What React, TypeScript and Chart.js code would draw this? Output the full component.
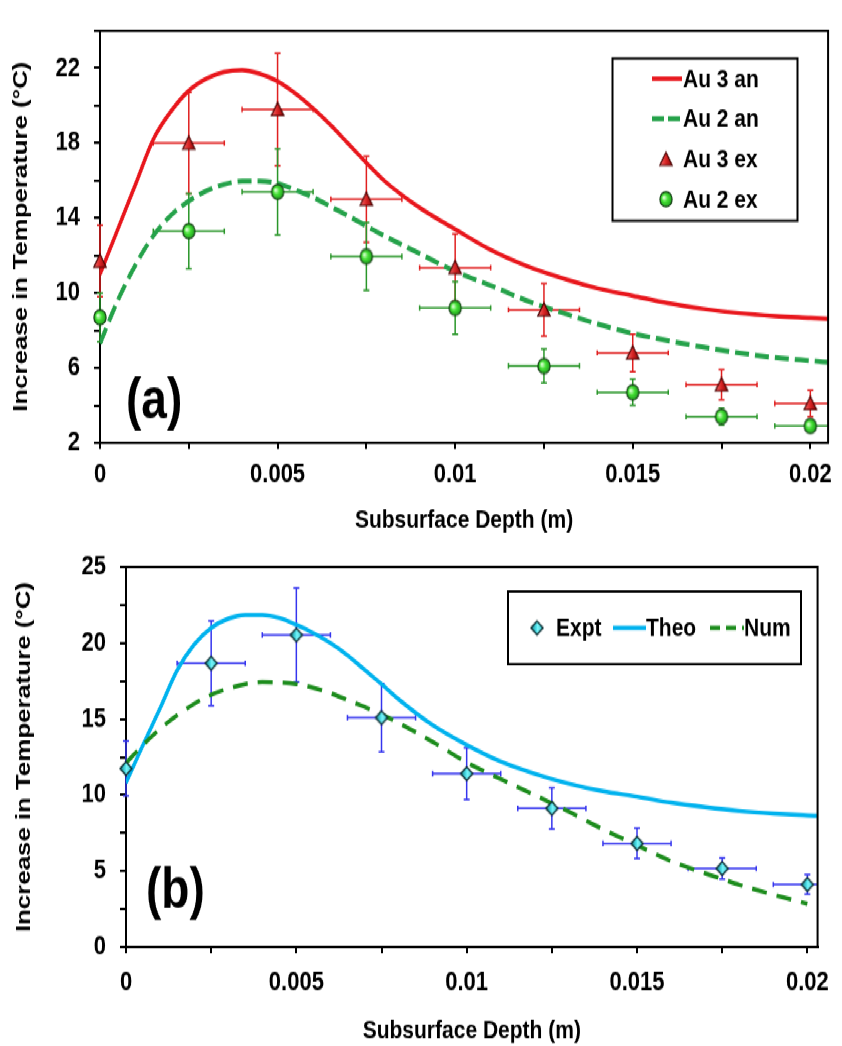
import React, { useEffect, useRef } from "react";
import { Chart, registerables } from "chart.js";

Chart.register(...registerables);

// ---------------- panel (a) data ----------------
const expDepth = [0, 0.0025, 0.005, 0.0075, 0.01, 0.0125, 0.015, 0.0175, 0.02];
const depthErr = [0, 0.001, 0.001, 0.001, 0.001, 0.001, 0.001, 0.001, 0.001];
const au3Ex = [11.7, 18.0, 19.8, 15.0, 11.35, 9.1, 6.8, 5.1, 4.1];
const au3ExErr = [1.9, 2.7, 3.0, 2.3, 1.8, 1.4, 1.0, 0.8, 0.7];
const au2Ex = [8.7, 13.3, 15.4, 11.95, 9.2, 6.1, 4.7, 3.4, 2.9];
const au2ExErr = [1.3, 2.0, 2.3, 1.8, 1.4, 0.9, 0.7, 0.45, 0.3];

const curveDepthA = [
  0, 0.0005, 0.001, 0.0015, 0.002, 0.0025, 0.003, 0.0035, 0.004, 0.0045, 0.005,
  0.0055, 0.006, 0.0065, 0.007, 0.0075, 0.008, 0.009, 0.01, 0.011, 0.012, 0.013,
  0.014, 0.015, 0.016, 0.017, 0.018, 0.019, 0.02, 0.0205,
];
const au3An = [
  11.0, 13.4, 15.8, 18.2, 19.7, 20.8, 21.45, 21.8, 21.9, 21.7, 21.3, 20.65, 19.85,
  18.95, 17.95, 16.95, 16.0, 14.55, 13.4, 12.3, 11.45, 10.8, 10.25, 9.85, 9.45,
  9.15, 8.92, 8.77, 8.67, 8.62,
];
const au2An = [
  7.3, 9.6, 11.5, 13.05, 14.15, 14.9, 15.45, 15.8, 15.97, 15.97, 15.85, 15.5, 15.1,
  14.6, 14.1, 13.57, 13.05, 12.1, 11.15, 10.4, 9.6, 8.95, 8.35, 7.84, 7.45, 7.1,
  6.8, 6.55, 6.38, 6.3,
];

// ---------------- panel (b) data ----------------
const expt = [11.75, 18.67, 20.53, 15.09, 11.41, 9.12, 6.82, 5.17, 4.12];
const exptErr = [1.8, 2.8, 3.1, 2.25, 1.7, 1.35, 1.0, 0.7, 0.65];

const curveDepthB = [
  0, 0.0005, 0.001, 0.0015, 0.002, 0.0025, 0.003, 0.0035, 0.004, 0.0045, 0.005,
  0.0055, 0.006, 0.0065, 0.007, 0.0075, 0.008, 0.009, 0.01, 0.011, 0.012, 0.013,
  0.014, 0.015, 0.016, 0.017, 0.018, 0.019, 0.02, 0.0203,
];
const theo = [
  10.8, 13.3, 15.7, 18.2, 19.9, 21.0, 21.6, 21.85, 21.85, 21.65, 21.2, 20.65, 20.0,
  19.2, 18.25, 17.3, 16.3, 14.6, 13.3, 12.2, 11.4, 10.75, 10.25, 9.9, 9.5, 9.2,
  8.95, 8.78, 8.66, 8.63,
];
const numDepth = [
  0, 0.0005, 0.001, 0.0015, 0.002, 0.0025, 0.003, 0.0035, 0.004, 0.0045, 0.005,
  0.0055, 0.006, 0.0065, 0.007, 0.0075, 0.008, 0.009, 0.01, 0.011, 0.012, 0.0125,
  0.013, 0.014, 0.015, 0.016, 0.017, 0.0175, 0.018, 0.019, 0.02,
];
const num = [
  12.1, 13.3, 14.35, 15.25, 16.0, 16.6, 17.0, 17.3, 17.43, 17.4, 17.3, 17.05, 16.7,
  16.25, 15.8, 15.3, 14.75, 13.5, 12.15, 11.05, 10.0, 9.45, 8.9, 7.75, 6.7, 5.65,
  4.85, 4.48, 4.1, 3.45, 2.85,
];

// ---------------- tick labels / texts ----------------
const xTickLabels = [0, 0.005, 0.01, 0.015, 0.02];
const yTickLabelsA = [2, 6, 10, 14, 18, 22];
const yTickLabelsB = [0, 5, 10, 15, 20, 25];
const legendLabelsA = ["Au 3 an", "Au 2 an", "Au 3 ex", "Au 2 ex"];
const legendLabelsB = ["Expt", "Theo", "Num"];
const xTitle = "Subsurface Depth (m)";
const yTitle = "Increase in Temperature (°C)";

// ---------------- layout constants ----------------
const K = 1.23; // vertical stretch of the original figure
const W = 842;
const TOP_H = 436;
const BOT_H = 415;
const FONT = "'Liberation Sans', Arial, Helvetica, sans-serif";

const RED = "#E8161C";
const GREEN_DASH = "#25A24A";
const CYAN = "#00B2EE";
const NUM_GREEN = "#1C8C1C";

const pts = (xs: number[], ys: number[]) => xs.map((x, i) => ({ x, y: ys[i] }));

const labelFor = (v: number, arr: number[]) => {
  const m = arr.find((t) => Math.abs(t - v) < 1e-7);
  return m === undefined ? "" : String(m);
};

function makeMarker(kind: string): HTMLCanvasElement {
  const c = document.createElement("canvas");
  const s = 18;
  c.width = s;
  c.height = s;
  const g = c.getContext("2d") as CanvasRenderingContext2D;
  const cx = s / 2;
  const cy = s / 2;
  g.lineWidth = 1.2;
  g.beginPath();
  if (kind === "tri") {
    g.moveTo(cx, cy - 5.8);
    g.lineTo(cx + 6.2, cy + 5.0);
    g.lineTo(cx - 6.2, cy + 5.0);
    g.closePath();
    const gr = g.createLinearGradient(cx - 6, 0, cx + 6, 0);
    gr.addColorStop(0, "#F46A6A");
    gr.addColorStop(0.5, "#D82424");
    gr.addColorStop(1, "#8E0A0A");
    g.fillStyle = gr;
    g.strokeStyle = "#4A0000";
  } else if (kind === "circle") {
    g.arc(cx, cy, 6.1, 0, Math.PI * 2);
    const gr = g.createRadialGradient(cx - 2.2, cy - 1.5, 0.5, cx, cy, 6.3);
    gr.addColorStop(0, "#D8FFD0");
    gr.addColorStop(0.45, "#44E034");
    gr.addColorStop(1, "#1E9A1E");
    g.fillStyle = gr;
    g.strokeStyle = "#123F12";
  } else {
    g.moveTo(cx, cy - 5.6);
    g.lineTo(cx + 6.0, cy);
    g.lineTo(cx, cy + 5.6);
    g.lineTo(cx - 6.0, cy);
    g.closePath();
    const gr = g.createLinearGradient(cx - 6, 0, cx + 6, 0);
    gr.addColorStop(0, "#16808C");
    gr.addColorStop(0.45, "#4FE4EC");
    gr.addColorStop(0.55, "#7AF4F8");
    gr.addColorStop(1, "#2FC8D2");
    g.fillStyle = gr;
    g.strokeStyle = "#0C2E32";
    g.lineWidth = 1.4;
  }
  g.fill();
  g.stroke();
  return c;
}

const errorBarPlugin = {
  id: "errorBars",
  beforeDatasetsDraw(chart: any) {
    const { ctx, chartArea: a, scales } = chart;
    const xs = scales.x;
    const ys = scales.y;
    ctx.save();
    ctx.beginPath();
    ctx.rect(a.left - 20, a.top - 20, a.right - a.left + 20, a.bottom - a.top + 40);
    ctx.clip();
    chart.data.datasets.forEach((ds: any) => {
      if (!ds.errY) return;
      ctx.strokeStyle = ds.errColor;
      ctx.lineWidth = 1.5;
      ds.data.forEach((p: any, i: number) => {
        const px = xs.getPixelForValue(p.x);
        const py = ys.getPixelForValue(p.y);
        const ey = ds.errY[i];
        const ex = ds.errX[i];
        ctx.beginPath();
        if (ey > 0) {
          const y1 = ys.getPixelForValue(p.y + ey);
          const y2 = ys.getPixelForValue(p.y - ey);
          ctx.moveTo(px, y1);
          ctx.lineTo(px, y2);
          ctx.moveTo(px - 3, y1);
          ctx.lineTo(px + 3, y1);
          ctx.moveTo(px - 3, y2);
          ctx.lineTo(px + 3, y2);
        }
        if (ex > 0) {
          const x1 = xs.getPixelForValue(p.x - ex);
          const x2 = xs.getPixelForValue(p.x + ex);
          ctx.moveTo(x1, py);
          ctx.lineTo(x2, py);
          ctx.moveTo(x1, py - 2.2);
          ctx.lineTo(x1, py + 2.2);
          ctx.moveTo(x2, py - 2.2);
          ctx.lineTo(x2, py + 2.2);
        }
        ctx.stroke();
      });
    });
    ctx.restore();
  },
};

const framePlugin = {
  id: "frame",
  afterDatasetsDraw(chart: any) {
    const { ctx, chartArea: a } = chart;
    ctx.save();
    ctx.strokeStyle = "#000";
    ctx.lineWidth = 2;
    ctx.beginPath();
    ctx.moveTo(a.left, a.top);
    ctx.lineTo(a.right, a.top);
    ctx.lineTo(a.right, a.bottom);
    ctx.stroke();
    ctx.restore();
  },
};

function makeScales(opts: any) {
  return {
    x: {
      type: "linear",
      min: 0,
      max: opts.xMax,
      border: { display: true, color: "#000", width: 2 },
      grid: { drawOnChartArea: false, drawTicks: true, tickLength: 5, color: "#000", lineWidth: 2 },
      ticks: {
        stepSize: 0.0025,
        includeBounds: false,
        autoSkip: false,
        maxRotation: 0,
        minRotation: 0,
        padding: opts.xPad,
        color: "#000",
        font: { family: FONT, size: 22, weight: "bold", lineHeight: 1 },
        callback: (v: number) => labelFor(v, xTickLabels),
      },
      title: {
        display: true,
        text: xTitle,
        color: "#000",
        font: { family: FONT, size: 21, weight: "bold" },
        padding: 0,
      },
      afterFit: (s: any) => {
        s.height = opts.xHeight;
      },
    },
    y: {
      type: "linear",
      min: opts.yMin,
      max: opts.yMax,
      border: { display: true, color: "#000", width: 2 },
      grid: { drawOnChartArea: false, drawTicks: true, tickLength: 6, color: "#000", lineWidth: 2 },
      ticks: {
        stepSize: opts.yStep,
        includeBounds: false,
        autoSkip: false,
        padding: 14,
        color: "#000",
        font: { family: FONT, size: 22, weight: "bold", lineHeight: 1 },
        callback: (v: number) => labelFor(v, opts.yLabels),
      },
      title: {
        display: true,
        text: yTitle,
        color: "#000",
        font: { family: FONT, size: 21, weight: "bold" },
        padding: { top: opts.yTitlePad, bottom: 0 },
      },
      afterFit: (s: any) => {
        s.width = opts.yWidth;
      },
    },
  };
}

export default function App() {
  const refA = useRef<HTMLCanvasElement>(null);
  const refB = useRef<HTMLCanvasElement>(null);

  useEffect(() => {
    const tri = makeMarker("tri");
    const circ = makeMarker("circle");
    const dia = makeMarker("diamond");

    const legendAPlugin = {
      id: "legendA",
      afterDraw(chart: any) {
        const ctx = chart.ctx;
        ctx.save();
        ctx.strokeStyle = "#000";
        ctx.lineWidth = 2;
        ctx.strokeRect(612.5, 47.5, 185, 132);
        ctx.font = `bold 21px ${FONT}`;
        ctx.fillStyle = "#000";
        ctx.textBaseline = "middle";
        ctx.textAlign = "left";
        const rows = [64, 96.5, 129.5, 162];
        rows.forEach((y, i) => {
          ctx.fillText(legendLabelsA[i], 683, y + 1);
        });
        ctx.lineWidth = 3.5;
        ctx.strokeStyle = RED;
        ctx.beginPath();
        ctx.moveTo(652, rows[0]);
        ctx.lineTo(682, rows[0]);
        ctx.stroke();
        ctx.strokeStyle = GREEN_DASH;
        ctx.lineWidth = 4;
        ctx.setLineDash([12, 4]);
        ctx.beginPath();
        ctx.moveTo(652, rows[1]);
        ctx.lineTo(682, rows[1]);
        ctx.stroke();
        ctx.setLineDash([]);
        ctx.drawImage(tri, 666 - 9, rows[2] - 9);
        ctx.drawImage(circ, 666 - 9, rows[3] - 9);
        ctx.font = `bold 46px ${FONT}`;
        ctx.fillText("(a)", 126, 327);
        ctx.restore();
      },
    };

    const legendBPlugin = {
      id: "legendB",
      afterDraw(chart: any) {
        const ctx = chart.ctx;
        ctx.save();
        ctx.strokeStyle = "#000";
        ctx.lineWidth = 2;
        ctx.strokeRect(508, 45, 293, 59);
        ctx.font = `bold 21px ${FONT}`;
        ctx.fillStyle = "#000";
        ctx.textBaseline = "middle";
        ctx.textAlign = "left";
        const y = 74.5;
        ctx.drawImage(dia, 537 - 9, y - 9);
        ctx.fillText(legendLabelsB[0], 556, y + 1);
        ctx.strokeStyle = CYAN;
        ctx.lineWidth = 3.5;
        ctx.beginPath();
        ctx.moveTo(613, y);
        ctx.lineTo(646, y);
        ctx.stroke();
        ctx.fillText(legendLabelsB[1], 646, y + 1);
        ctx.strokeStyle = NUM_GREEN;
        ctx.setLineDash([10, 6]);
        ctx.beginPath();
        ctx.moveTo(710, y);
        ctx.lineTo(744, y);
        ctx.stroke();
        ctx.setLineDash([]);
        ctx.fillText(legendLabelsB[2], 744, y + 1);
        ctx.font = `bold 46px ${FONT}`;
        ctx.fillText("(b)", 146, 289);
        ctx.restore();
      },
    };

    const common = {
      responsive: false,
      animation: false,
      events: [],
      plugins: { legend: { display: false }, tooltip: { enabled: false } },
    };

    const chartA = new Chart(refA.current as HTMLCanvasElement, {
      type: "scatter",
      data: {
        datasets: [
          {
            label: "Au 3 ex",
            data: pts(expDepth, au3Ex),
            pointStyle: tri,
            pointRadius: 6,
            showLine: false,
            clip: false,
            order: 0,
            errY: au3ExErr,
            errX: depthErr,
            errColor: "#E02020",
          } as any,
          {
            label: "Au 2 ex",
            data: pts(expDepth, au2Ex),
            pointStyle: circ,
            pointRadius: 6,
            showLine: false,
            clip: false,
            order: 0,
            errY: au2ExErr,
            errX: depthErr,
            errColor: "#2A962A",
          } as any,
          {
            label: "Au 3 an",
            data: pts(curveDepthA, au3An),
            showLine: true,
            pointRadius: 0,
            borderColor: RED,
            borderWidth: 3.5,
            cubicInterpolationMode: "monotone",
            order: 2,
          },
          {
            label: "Au 2 an",
            data: pts(curveDepthA, au2An),
            showLine: true,
            pointRadius: 0,
            borderColor: GREEN_DASH,
            borderWidth: 4,
            borderDash: [14, 6],
            cubicInterpolationMode: "monotone",
            order: 1,
          },
        ],
      },
      options: {
        ...common,
        layout: { padding: { left: 0, top: 11, right: 11, bottom: 0 } },
        scales: makeScales({
          xMax: 0.0205,
          xPad: 10,
          xHeight: 76,
          yMin: 2,
          yMax: 24,
          yStep: 2,
          yLabels: yTickLabelsA,
          yTitlePad: 9,
          yWidth: 100,
        }),
      } as any,
      plugins: [errorBarPlugin, framePlugin, legendAPlugin],
    });

    const chartB = new Chart(refB.current as HTMLCanvasElement, {
      type: "scatter",
      data: {
        datasets: [
          {
            label: "Expt",
            data: pts(expDepth, expt),
            pointStyle: dia,
            pointRadius: 6,
            showLine: false,
            clip: false,
            order: 0,
            errY: exptErr,
            errX: depthErr,
            errColor: "#3535EE",
          } as any,
          {
            label: "Theo",
            data: pts(curveDepthB, theo),
            showLine: true,
            pointRadius: 0,
            borderColor: CYAN,
            borderWidth: 3.5,
            cubicInterpolationMode: "monotone",
            order: 2,
          },
          {
            label: "Num",
            data: pts(numDepth, num),
            showLine: true,
            pointRadius: 0,
            borderColor: NUM_GREEN,
            borderWidth: 3.5,
            borderDash: [15, 10],
            cubicInterpolationMode: "monotone",
            order: 1,
          },
        ],
      },
      options: {
        ...common,
        layout: { padding: { left: 0, top: 12.5, right: 16, bottom: 0 } },
        scales: makeScales({
          xMax: 0.0203,
          xPad: 13,
          xHeight: 81,
          yMin: 0,
          yMax: 25,
          yStep: 2.5,
          yLabels: yTickLabelsB,
          yTitlePad: 12,
          yWidth: 126,
        }),
      } as any,
      plugins: [errorBarPlugin, framePlugin, legendBPlugin],
    });

    return () => {
      chartA.destroy();
      chartB.destroy();
    };
  }, []);

  return (
    <div
      style={{
        position: "absolute",
        left: 0,
        top: 0,
        width: W,
        height: TOP_H + BOT_H,
        transform: `scaleY(${K})`,
        transformOrigin: "0 0",
        background: "#fff",
      }}
    >
      <canvas ref={refA} width={W} height={TOP_H} style={{ display: "block", width: W, height: TOP_H }} />
      <canvas ref={refB} width={W} height={BOT_H} style={{ display: "block", width: W, height: BOT_H }} />
    </div>
  );
}
